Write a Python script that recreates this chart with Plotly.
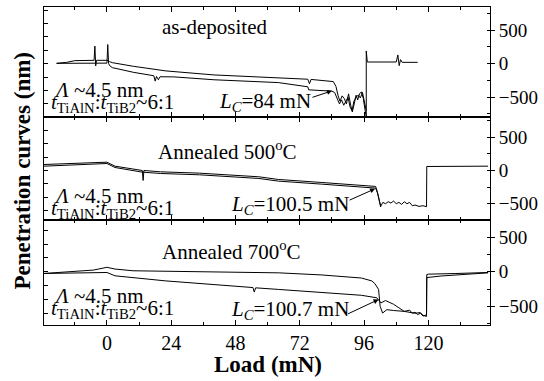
import plotly.graph_objects as go
from plotly.subplots import make_subplots

# ---------------- data ----------------
# Panel 1: as-deposited
p1a_load = [-18.8, -15, -12, -8, -4.8, -4.5, -4.2, -3.9, 0, 1, 2, 10, 22, 40, 57, 64, 75, 75.6, 76.2,
            84.5, 85.5, 86.3, 87, 87.8, 88.6, 89.4, 90.2, 91, 91.6, 92.3, 93, 93.6, 94.3, 95, 95.7, 96.4,
            96.8, 96.8, 97.2, 108, 108.6, 109.1, 109.6, 110.2, 116]
p1a_pen = [5, 20, 45, 50, 50, 262, -34, 50, 50, 30, 15, -40, -108, -168, -198, -217, -232, -300, -235,
           -267, -340, -480, -560, -480, -520, -600, -450, -620, -720, -600, -470, -540, -450, -420, -520, -700,
           -790, 190, 25, 25, 130, -30, 60, 20, 20]
p1b_load = [-18.8, -10, -5, 0, 0.3, 0.6, 1, 2, 10, 17.5, 18, 18.5, 19.2, 19.8, 25, 40, 64, 75, 75.3,
            84, 85, 86, 86.8, 87.6, 88.4, 89.2, 90, 90.8, 91.5, 92.2, 93, 93.8, 94.6, 95.4, 96.2, 96.8]
p1b_pen = [5, 8, 8, 8, 285, 5, -30, -59, -130, -180, -260, -190, -240, -195, -197, -240, -282, -345, -390,
           -410, -430, -520, -600, -540, -620, -560, -500, -650, -700, -560, -500, -470, -510, -430, -560, -700]

# Panel 2: annealed 500 C
p2a_load = [-23.5, -10, 0, 3, 10, 13.2, 13.5, 13.8, 20, 34.5, 56.7, 64, 80, 100.3, 101, 102.2, 103, 104,
            105, 106, 107, 108, 109, 110, 111, 112, 113, 114, 115, 116.5, 118, 119.3, 119.4, 125, 142.3]
p2a_pen = [90, 110, 125, 65, 20, 0, -150, 0, -20, -40, -95, -135, -180, -240, -330, -540, -480, -500,
           -470, -490, -460, -500, -480, -510, -470, -500, -480, -530, -520, -540, -530, -545, 60, 60, 65]
p2b_load = [-23.5, -10, 0, 3, 10, 13.2, 20, 34.5, 56.7, 64, 80, 100.3, 101, 102.2]
p2b_pen = [65, 90, 105, 45, 0, -25, -45, -65, -120, -160, -205, -265, -340, -550]

# Panel 3: annealed 700 C
p3a_load = [-23.5, -15, -5, 0, 3, 9.7, 30, 56.7, 64, 80, 95, 98.9, 100, 101.4, 102, 102.9, 103.8, 104.5,
            107, 111, 115, 117, 118, 119.3, 119.4, 120, 130, 142.3]
p3a_pen = [-24, 0, 25, 65, 40, 15, 5, -10, -15, -45, -90, -132, -170, -255, -500, -597, -570, -548,
           -560, -573, -600, -590, -630, -646, -40, -34, -25, -10]
p3b_load = [-23.5, -10, -3, 0, 3, 22, 40, 54.5, 55, 55.5, 64, 80, 95, 100.7, 102.3, 104, 107, 111, 113,
            114, 115, 116, 117, 118, 119.3, 119.4, 125, 142.3]
p3b_pen = [-24, -15, -10, -10, -58, -132, -185, -228, -294, -232, -255, -300, -340, -376, -450, -416,
           -470, -573, -555, -600, -585, -620, -600, -640, -622, -83, -60, -15]

x_ticks = [0, 24, 48, 72, 96, 120]
y_ticks = [-500, 0, 500]
panel_titles = ["as-deposited", "Annealed 500<sup>o</sup>C", "Annealed 700<sup>o</sup>C"]
lc_labels = ["<i>L<sub>C</sub></i>=84 mN", "<i>L<sub>C</sub></i>=100.5 mN", "<i>L<sub>C</sub></i>=100.7 mN"]
lc_points = [(84, -405), (100.1, -275), (101.4, -401)]
y_ranges = [[-790, 845], [-750, 810], [-770, 745]]

# ---------------- figure ----------------
FONT = "Liberation Serif"
fig = make_subplots(rows=3, cols=1, shared_xaxes=True, vertical_spacing=0,
                    row_heights=[110, 104, 105])

line = dict(color="black", width=1)
series = [(p1a_load, p1a_pen), (p1b_load, p1b_pen)], [(p2a_load, p2a_pen), (p2b_load, p2b_pen)], \
         [(p3a_load, p3a_pen), (p3b_load, p3b_pen)]
for r, pair in enumerate(series, start=1):
    for xs, ys in pair:
        fig.add_trace(go.Scatter(x=xs, y=ys, mode="lines", line=line, showlegend=False,
                                 hoverinfo="skip"), row=r, col=1)

# left-side tick axes (empty traces so the overlay axes exist)
for i, ov in enumerate(["y", "y2", "y3"]):
    fig.add_trace(go.Scatter(x=[], y=[], yaxis="y%d" % (i + 4), xaxis="x" if i == 0 else "x%d" % (i + 1),
                             showlegend=False))

xcommon = dict(range=[-23.5, 143], tickvals=x_ticks, ticks="inside", ticklen=5,
               minor=dict(dtick=12, tick0=0, ticks="inside", ticklen=3, tickcolor="black"),
               showline=True, linecolor="black", linewidth=1, mirror="ticks",
               showgrid=False, zeroline=False, tickcolor="black",
               tickfont=dict(family=FONT, size=20, color="black"))
for r in range(1, 4):
    fig.update_xaxes(row=r, col=1, **xcommon)
fig.update_xaxes(row=3, col=1, showticklabels=True)

for r in range(1, 4):
    fig.update_yaxes(row=r, col=1, side="right", range=y_ranges[r - 1], tickvals=y_ticks,
                     ticks="outside", ticklen=4, tickcolor="black",
                     minor=dict(dtick=250, tick0=0, ticks="inside", ticklen=3, tickcolor="black"),
                     showline=True, linecolor="black", linewidth=1, showgrid=False, zeroline=False,
                     tickfont=dict(family=FONT, size=19, color="black"))

for i in range(3):
    fig.layout["yaxis%d" % (i + 4)] = dict(
        overlaying="y" if i == 0 else "y%d" % (i + 1), side="left",
        anchor="x" if i == 0 else "x%d" % (i + 1),
        range=y_ranges[i], dtick=200, tick0=0, ticks="inside", ticklen=4, tickcolor="black",
        showticklabels=False, showline=True, linecolor="black", linewidth=1,
        showgrid=False, zeroline=False)

W, H = 544, 381
L, R, T, B = 44, 52, 6, 56
pw, ph = W - L - R, H - T - B


def px(x):
    return (x - L) / pw


def py(y):
    return (H - B - y) / ph


ann = []
tf = dict(family=FONT, size=21, color="black")
title_pos = [(215, 26), (228, 150), (232, 250)]
lam_y = [89, 196, 296]
t_y = [102, 209, 309]
lc_pos = [(218, 101), (230, 205), (230, 310)]
tails = [(-21, 7), (-27, 12), (-32, 15)]
for i in range(3):
    ann.append(dict(x=px(title_pos[i][0]), y=py(title_pos[i][1]), xref="paper", yref="paper",
                    text=panel_titles[i], showarrow=False, font=tf, xanchor="center", yanchor="middle"))
    ann.append(dict(x=px(52), y=py(lam_y[i]), xref="paper", yref="paper",
                    text="<i>Λ</i> ~4.5 nm", showarrow=False, font=tf, xanchor="left", yanchor="middle"))
    ann.append(dict(x=px(49), y=py(t_y[i]), xref="paper", yref="paper",
                    text="<i>t</i><sub>TiAlN</sub>:<i>t</i><sub>TiB2</sub>~6:1", showarrow=False, font=tf,
                    xanchor="left", yanchor="middle"))
    ann.append(dict(x=px(lc_pos[i][0]), y=py(lc_pos[i][1]), xref="paper", yref="paper",
                    text=lc_labels[i], showarrow=False, font=tf, xanchor="left", yanchor="middle"))
    xr = "x" if i == 0 else "x%d" % (i + 1)
    yr = "y" if i == 0 else "y%d" % (i + 1)
    ann.append(dict(x=lc_points[i][0], y=lc_points[i][1], xref=xr, yref=yr, text="",
                    showarrow=True, ax=tails[i][0], ay=tails[i][1], arrowhead=2, arrowsize=1,
                    arrowwidth=1, arrowcolor="black"))

ann.append(dict(x=px(269), y=py(365), xref="paper", yref="paper", text="Load (mN)", showarrow=False,
                font=dict(family=FONT, size=23, color="black", weight="bold"),
                xanchor="center", yanchor="middle"))
ann.append(dict(x=px(22), y=py(170), xref="paper", yref="paper", text="Penetration curves (nm)",
                showarrow=False, textangle=-90,
                font=dict(family=FONT, size=23, color="black", weight="bold"),
                xanchor="center", yanchor="middle"))

fig.update_layout(width=W, height=H, margin=dict(l=L, r=R, t=T, b=B),
                  paper_bgcolor="white", plot_bgcolor="white", annotations=ann,
                  font=dict(family=FONT, color="black"))

fig.write_html("out.html")
